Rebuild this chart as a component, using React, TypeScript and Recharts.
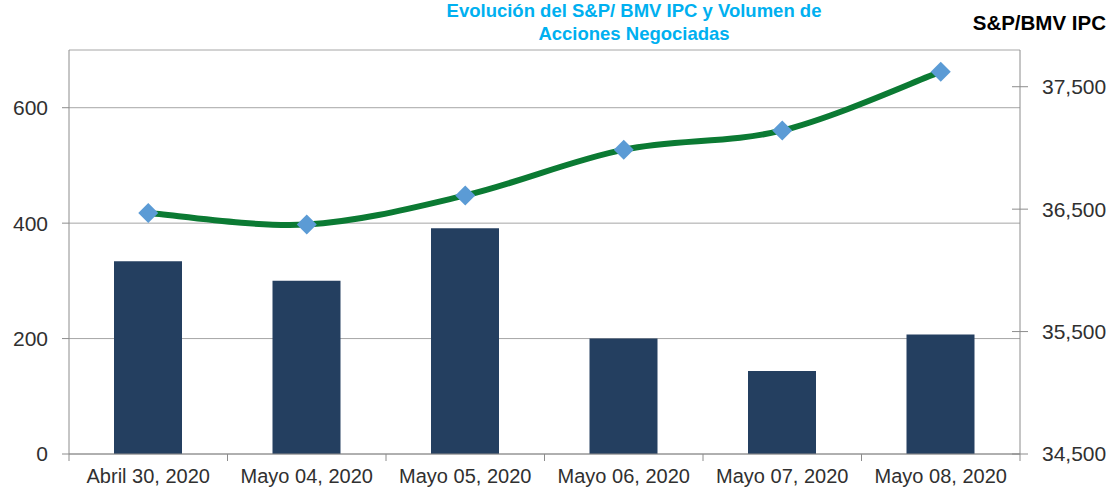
import React from 'react';
import { ComposedChart, Bar, Line, XAxis, YAxis, CartesianGrid } from 'recharts';

const categories = ['Abril 30, 2020', 'Mayo 04, 2020', 'Mayo 05, 2020', 'Mayo 06, 2020', 'Mayo 07, 2020', 'Mayo 08, 2020'];
const volumen = [334, 300, 391, 200, 144, 207];
const ipc = [36468, 36375, 36612, 36986, 37143, 37623];
const leftTicks = [0, 200, 400, 600];
const rightTicks = [34500, 35500, 36500, 37500];
const titleLines = ['Evolución del S&P/ BMV IPC y Volumen de', 'Acciones Negociadas'];
const rightTitle = 'S&P/BMV IPC';

const data = categories.map((c, i) => ({ name: c, volumen: volumen[i], ipc: ipc[i] }));

const W = 1113;
const H = 489;
const M = { top: 50, right: 0, bottom: 0, left: 0 };
const X_H = 35;
const LEFT_W = 69;
const RIGHT_W = 93;
const BAND = (W - LEFT_W - RIGHT_W) / categories.length;
const FONT = '"Liberation Sans", Arial, sans-serif';
const AXIS = '#8c8c8c';
const TXT = '#303030';

function catmullRom(context: any) {
  let pts: number[][] = [];
  return {
    areaStart() {},
    areaEnd() {},
    lineStart() { pts = []; },
    point(x: number, y: number) { pts.push([+x, +y]); },
    lineEnd() {
      if (!pts.length) return;
      context.moveTo(pts[0][0], pts[0][1]);
      const t = 1 / 6;
      for (let i = 0; i < pts.length - 1; i++) {
        const p0 = pts[i - 1] || pts[i];
        const p1 = pts[i];
        const p2 = pts[i + 1];
        const p3 = pts[i + 2] || p2;
        context.bezierCurveTo(
          p1[0] + (p2[0] - p0[0]) * t, p1[1] + (p2[1] - p0[1]) * t,
          p2[0] - (p3[0] - p1[0]) * t, p2[1] - (p3[1] - p1[1]) * t,
          p2[0], p2[1]
        );
      }
    },
  };
}

const Diamond = (props: any) => {
  const { cx, cy } = props;
  if (cx == null || cy == null) return null;
  const r = 10;
  return <polygon points={`${cx},${cy - r} ${cx + r},${cy} ${cx},${cy + r} ${cx - r},${cy}`} fill="#5B9BD5" />;
};

const XTick = (props: any) => {
  const { x, y, payload, index } = props;
  return (
    <g>
      <line x1={x + BAND / 2} y1={y} x2={x + BAND / 2} y2={y + 7} stroke={AXIS} strokeWidth={1} />
      {index === 0 && <line x1={x - BAND / 2} y1={y} x2={x - BAND / 2} y2={y + 7} stroke={AXIS} strokeWidth={1} />}
      <text x={x} y={y + 29} textAnchor="middle" fontFamily={FONT} fontSize={20} fill={TXT}>{payload.value}</text>
    </g>
  );
};

const RTick = (props: any) => {
  const { x, y, payload } = props;
  return (
    <g>
      <line x1={x - 8} y1={y} x2={x + 8} y2={y} stroke={AXIS} strokeWidth={1} />
      <text x={x + 22} y={y} dy="0.355em" textAnchor="start" fontFamily={FONT} fontSize={21} fill={TXT}>
        {payload.value.toLocaleString('en-US')}
      </text>
    </g>
  );
};

export default function App() {
  return (
    <div style={{ position: 'absolute', left: 0, top: 0, width: W, height: H, background: '#fff' }}>
      <ComposedChart width={W} height={H} data={data} margin={M}>
        <CartesianGrid yAxisId="left" vertical={false} stroke="#a6a6a6" strokeWidth={1} />
        <XAxis
          dataKey="name"
          height={X_H}
          axisLine={{ stroke: AXIS }}
          tickLine={false}
          tickSize={0}
          tickMargin={0}
          tick={<XTick />}
          interval={0}
        />
        <YAxis
          yAxisId="left"
          orientation="left"
          width={LEFT_W}
          domain={[0, 700]}
          ticks={leftTicks}
          axisLine={{ stroke: AXIS }}
          tickLine={{ stroke: AXIS }}
          tickSize={7}
          tickMargin={14}
          tick={{ fontFamily: FONT, fontSize: 21, fill: TXT }}
          allowDataOverflow
        />
        <YAxis
          yAxisId="right"
          orientation="right"
          width={RIGHT_W}
          domain={[34500, 37800]}
          ticks={rightTicks}
          axisLine={{ stroke: AXIS }}
          tickLine={false}
          tickSize={0}
          tickMargin={0}
          tick={<RTick />}
          allowDataOverflow
        />
        <Bar yAxisId="left" dataKey="volumen" fill="#243F60" barSize={68} isAnimationActive={false} />
        <Line
          yAxisId="right"
          dataKey="ipc"
          type={catmullRom as any}
          stroke="#0B7A33"
          strokeWidth={6}
          dot={<Diamond />}
          activeDot={false}
          isAnimationActive={false}
        />
      </ComposedChart>
      <svg width={W} height={H} style={{ position: 'absolute', left: 0, top: 0, pointerEvents: 'none' }}>
        <text x={634} y={17} textAnchor="middle" fontFamily={FONT} fontWeight="bold" fontSize={18.5} fill="#00B0F0">{titleLines[0]}</text>
        <text x={634} y={40} textAnchor="middle" fontFamily={FONT} fontWeight="bold" fontSize={18.5} fill="#00B0F0">{titleLines[1]}</text>
        <text x={1106} y={30} textAnchor="end" fontFamily={FONT} fontWeight="bold" fontSize={20.5} fill="#000">{rightTitle}</text>
      </svg>
    </div>
  );
}
